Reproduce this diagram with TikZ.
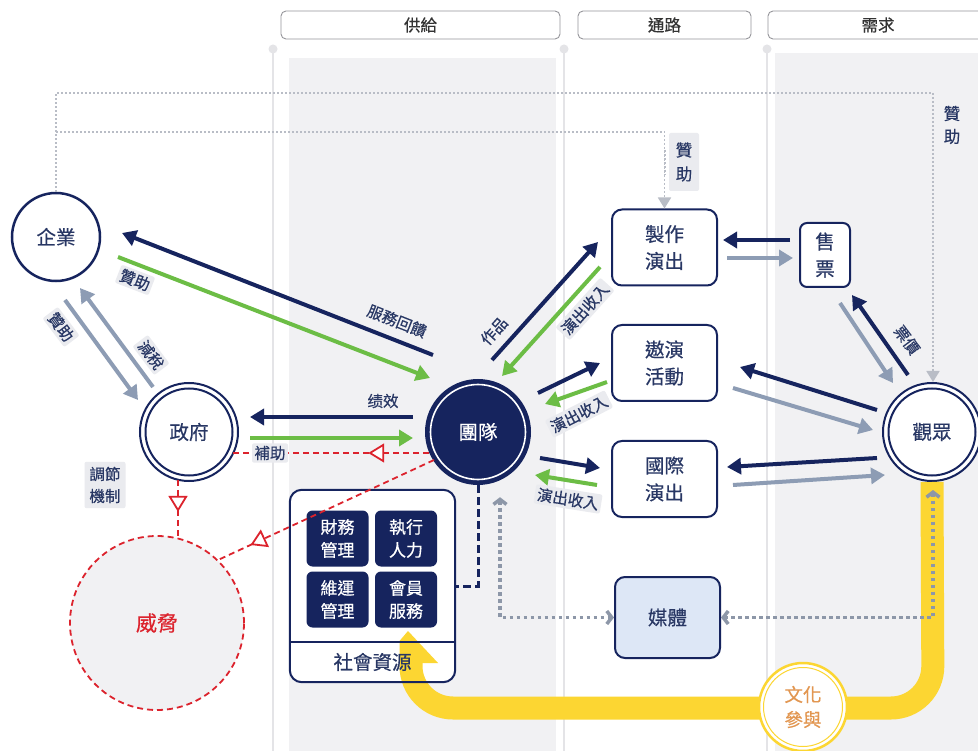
\documentclass[tikz,border=0pt]{standalone}
\usepackage{fontspec}
\setmainfont{Noto Sans CJK TC}[FakeBold=0.5]
\usetikzlibrary{arrows.meta,decorations.markings}
\definecolor{navy}{RGB}{22,36,94}
\definecolor{tnavy}{RGB}{40,55,100}
\definecolor{grn}{RGB}{108,189,69}
\definecolor{agray}{RGB}{141,156,180}
\definecolor{lblbg}{RGB}{234,235,239}
\definecolor{panel}{RGB}{241,241,243}
\definecolor{sepc}{RGB}{228,228,231}
\definecolor{hdrc}{RGB}{150,150,155}
\definecolor{dotc}{RGB}{185,189,198}
\definecolor{medc}{RGB}{141,151,168}
\definecolor{redc}{RGB}{220,35,45}
\definecolor{ylw}{RGB}{252,214,50}
\definecolor{orng}{RGB}{226,150,80}
\definecolor{mediaf}{RGB}{221,231,246}
\tikzset{
  navyarr/.style={draw=navy, line width=4pt, -{Triangle[length=14pt,width=16pt]}},
  greenarr/.style={draw=grn, line width=4pt, -{Triangle[length=14pt,width=16pt]}},
  grayarr/.style={draw=agray, line width=4pt, -{Triangle[length=14pt,width=16pt]}},
  lbl/.style={font=\fontsize{15.5}{17}\selectfont, text=tnavy, fill=lblbg, inner sep=2.5pt, rounded corners=2pt},
  lblnb/.style={font=\fontsize{15.5}{17}\selectfont, text=tnavy, inner sep=1pt},
  hdr/.style={draw=hdrc, line width=0.9pt, rounded corners=5pt, fill=white, minimum height=28pt, font=\fontsize{16.5}{18}\selectfont, text=black!80},
  boxnode/.style={draw=navy, line width=2pt, rounded corners=10pt, fill=white, minimum width=105pt, minimum height=76pt, align=center, font=\fontsize{19.5}{27}\selectfont, text=tnavy},
  darkbox/.style={fill=navy, rounded corners=6pt, minimum width=62pt, minimum height=56pt, align=center, font=\fontsize{17}{23}\selectfont, text=white},
  reddash/.style={draw=redc, line width=1.8pt, dash pattern=on 6pt off 4pt},
  redtri/.style={postaction={decorate,decoration={markings,mark=at position #1 with {\pgfsetdash{}{0pt}\arrow{Triangle[length=16pt,width=19pt,fill=white]}}}}},
  dotline/.style={draw=dotc, line width=1.8pt, dash pattern=on 1.8pt off 2.2pt},
  meddot/.style={draw=medc, line width=3.5pt, dash pattern=on 3.5pt off 3.5pt},
  ylwband/.style={draw=ylw, line width=23pt, rounded corners=42pt}
}
\begin{document}
\begin{tikzpicture}[x=1pt,y=-1pt]
\useasboundingbox (0,0) rectangle (978,751);
\fill[white] (0,0) rectangle (978,751);
% panels
\fill[panel] (289,58) rectangle (556,751);
\fill[panel] (775,53) rectangle (978,751);
% separators
\foreach \sx in {273,564,767}{
  \draw[sepc, line width=1.5pt] (\sx,49) -- (\sx,751);
  \fill[sepc] (\sx,49) circle (4.5);
}
% headers
\node[hdr, minimum width=279pt] (h1) at (420.5,25) {供給};
\node[hdr, minimum width=173pt] (h2) at (664.5,25) {通路};
\node[hdr, minimum width=220pt] (h3) at (878,25) {需求};

% main nodes
\node[circle, draw=navy, line width=2.5pt, fill=white, minimum size=88pt, font=\fontsize{19.5}{22}\selectfont, text=tnavy] (qy) at (56,237) {企業};
\node[circle, draw=navy, line width=2pt, fill=white, minimum size=98pt, font=\fontsize{19.5}{22}\selectfont, text=tnavy] (zf) at (189,432) {政府};
\draw[navy, line width=2pt] (zf.center) circle (43.5);
\node[circle, fill=navy, minimum size=106pt, font=\fontsize{19.5}{22}\selectfont, text=white] (tm) at (478,432) {團隊};
\draw[white, line width=1.6pt] (tm.center) circle (47.5);
\node[circle, draw=navy, line width=2pt, fill=white, minimum size=98pt, font=\fontsize{19.5}{22}\selectfont, text=tnavy] (gz) at (932,432) {觀眾};
\draw[navy, line width=2pt] (gz.center) circle (43.5);
\node[boxnode] (zz) at (664.5,247.5) {製作\\演出};
\node[boxnode] (yy) at (664.5,363) {遨演\\活動};
\node[boxnode] (gj) at (664.5,479) {國際\\演出};
\node[boxnode, minimum width=50pt, minimum height=64pt, rounded corners=7pt] (sp) at (825,255) {售\\票};
\node[circle, draw=redc, line width=1.8pt, dash pattern=on 6pt off 4pt, fill=panel, minimum size=174pt, font=\fontsize{21}{24}\selectfont, text=redc] (wx) at (157,623) {威脅};

% social resources box (fill first)
\node[fill=white, rounded corners=12pt, minimum width=165pt, minimum height=192pt] (sh) at (372.5,586) {};

% yellow band
\coordinate (yc1) at (933,708);
\coordinate (yc2) at (411,708);
\coordinate (yarr) at (411,662);
\draw[ylwband] (gz.south) -- (yc1) -- (yc2) -- (yarr);
\fill[ylw] (399.5,663) -- (399.5,641) -- (408,631) -- (438,663) -- cycle;

% social box outline and contents
\draw[navy, line width=2pt, rounded corners=12pt] (sh.north west) rectangle (sh.south east);
\coordinate (shdiv) at (372.5,642);
\draw[navy, line width=2pt] (shdiv -| sh.west) -- (shdiv -| sh.east);
\node[font=\fontsize{19.5}{22}\selectfont, text=tnavy] (shl) at (372.5,662) {社會資源};
\node[darkbox] (b1) at (337.5,538.5) {財務\\管理};
\node[darkbox] (b2) at (406,538.5) {執行\\人力};
\node[darkbox] (b3) at (337.5,599.5) {維運\\管理};
\node[darkbox] (b4) at (406,599.5) {會員\\服務};

% media node
\node[boxnode, fill=mediaf, minimum height=81pt] (mt) at (667.5,617.5) {媒體};

% culture node
\node[circle, draw=ylw, line width=2.5pt, fill=white, minimum size=88pt, align=center, font=\fontsize{18.5}{25}\selectfont, text=orng] (wh) at (803,707) {文化\\參與};
\draw[ylw, line width=1pt] (wh.center) circle (39.5);

% dotted sponsor lines
\coordinate (dB) at (933,93);
\coordinate (dC) at (56,132);
\draw[dotline] (qy.north) |- (dB);
\draw[dotline, -{Triangle[length=11pt,width=13pt]}] (dB) -- ([xshift=1]gz.north);
\draw[dotline, -{Triangle[length=11pt,width=13pt]}] (dC) -| (zz.north);
\node[lblnb, align=center, font=\fontsize{16.5}{23}\selectfont] (s1) at (952,125) {贊\\助};
\node[lbl, align=center, font=\fontsize{16.5}{24}\selectfont, minimum width=30pt, minimum height=58pt] (s2) at (684,162) {贊\\助};
\draw[dotline] (665,150) -- (665,175);

% media dotted connectors
\draw[meddot, {Straight Barb[length=5pt,width=13pt]}-{Straight Barb[length=5pt,width=13pt]}] ([shift={(22,12)}]tm.south) |- (mt.west);
\draw[meddot, {Straight Barb[length=5pt,width=13pt]}-{Straight Barb[length=5pt,width=13pt]}] ([shift={(1,8)}]gz.south) |- (mt.east);

% navy dashed team -> social
\draw[navy, line width=3pt, dash pattern=on 8pt off 4pt] (tm.south) |- (sh.east);

% red dashed
\draw[reddash, redtri=0.31] ([shift={(-49,21)}]tm.center) -- ([shift={(44,21)}]zf.center);
\draw[reddash, redtri=0.85] ([shift={(-44,28)}]tm.center) -- ([shift={(61,-63)}]wx.center);
\draw[reddash, redtri=0.55] ([shift={(-11,48)}]zf.center) -- ([shift={(21,-85)}]wx.center);
\node[lbl, align=center, font=\fontsize{15.5}{22}\selectfont, inner sep=5pt] (tj) at (105,485) {調節\\機制};

% arrows
\draw[navyarr] ([shift={(-45,-77)}]tm.center) -- ([shift={(66,-4)}]qy.center);
\draw[greenarr] ([shift={(62,20)}]qy.center) -- ([shift={(-48,-54)}]tm.center);
\draw[grayarr] ([shift={(9,63)}]qy.center) -- ([shift={(-51,-32)}]zf.center);
\draw[grayarr] ([shift={(-36,-45)}]zf.center) -- ([shift={(24,51)}]qy.center);
\draw[navyarr] ([shift={(-65,-15)}]tm.center) -- ([shift={(61,-15)}]zf.center);
\draw[greenarr] ([shift={(61,6)}]zf.center) -- ([shift={(-65,6)}]tm.center);
\draw[navyarr] ([shift={(14,-72)}]tm.center) -- ([shift={(-66.5,-5.5)}]zz.center);
\draw[greenarr] ([shift={(-64.5,19.5)}]zz.center) -- ([shift={(24,-56)}]tm.center);
\draw[navyarr] ([shift={(60,-39)}]tm.center) -- ([shift={(-64.5,0)}]yy.center);
\draw[greenarr] ([shift={(-57.5,19)}]yy.center) -- ([shift={(67,-28)}]tm.center);
\draw[navyarr] ([shift={(62,26)}]tm.center) -- ([shift={(-64.5,-11)}]gj.center);
\draw[greenarr] ([shift={(-67.5,6)}]gj.center) -- ([shift={(57,43)}]tm.center);
\draw[navyarr] ([shift={(-35,-15)}]sp.center) -- ([shift={(58.5,-7.5)}]zz.center);
\draw[grayarr] ([shift={(62.5,10.5)}]zz.center) -- ([shift={(-32,3)}]sp.center);
\draw[navyarr] ([shift={(-24,-57)}]gz.center) -- ([shift={(27,40)}]sp.center);
\draw[grayarr] ([shift={(15,48)}]sp.center) -- ([shift={(-39,-49)}]gz.center);
\draw[navyarr] ([shift={(-55,-22)}]gz.center) -- ([shift={(75.5,4)}]yy.center);
\draw[grayarr] ([shift={(68.5,25)}]yy.center) -- ([shift={(-59,-2)}]gz.center);
\draw[navyarr] ([shift={(-55,26)}]gz.center) -- ([shift={(62.5,-12)}]gj.center);
\draw[grayarr] ([shift={(68.5,6)}]gj.center) -- ([shift={(-47,43)}]gz.center);

% labels
\node[lblnb, rotate=-21.5] (l1) at (397,321) {服務回饋};
\node[lbl, rotate=-21] (l2) at (135,280) {贊助};
\node[lbl, rotate=-53] (l3) at (61,327) {贊助};
\node[lbl, rotate=-53] (l4) at (151,355) {減稅};
\node[lblnb] (l5) at (383,401) {绩效};
\node[lbl] (l6) at (270,453) {補助};
\node[lblnb, rotate=48] (l7) at (494,331) {作品};
\node[lbl, rotate=48] (l8) at (585,309) {演出收入};
\node[lbl, rotate=27] (l9) at (579,414) {演出收入};
\node[lbl, rotate=-9] (l10) at (568,499) {演出收入};
\node[lblnb, rotate=-53] (l11) at (907,340) {票價};
\end{tikzpicture}
\end{document}
